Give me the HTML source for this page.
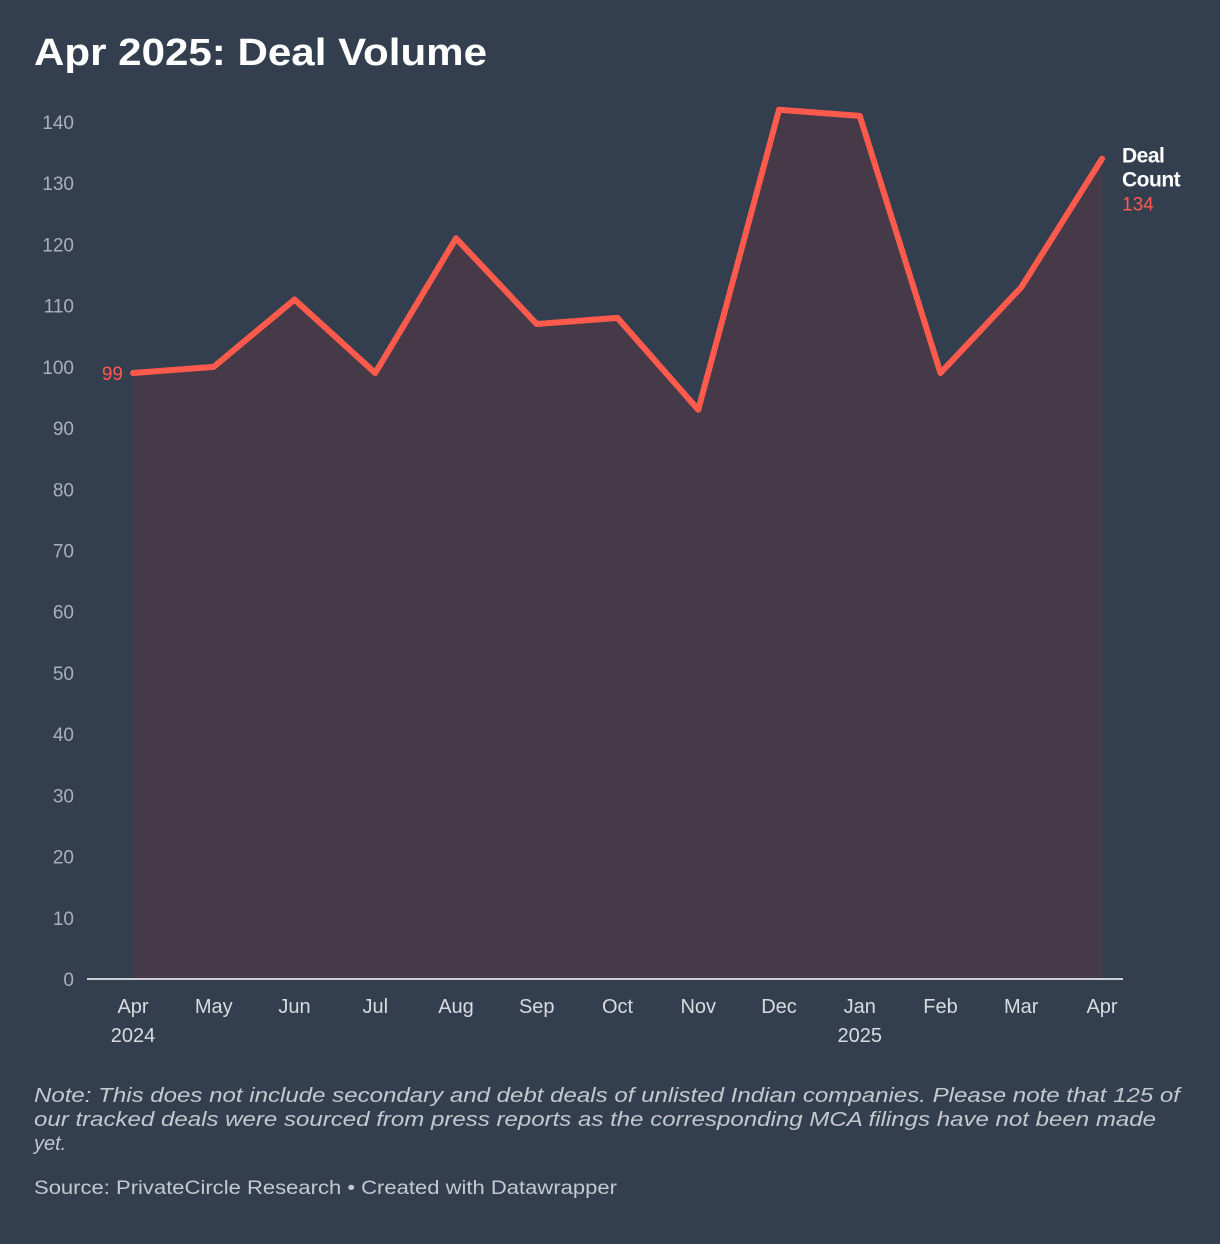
<!DOCTYPE html>
<html><head><meta charset="utf-8"><style>
body{margin:0;background:#333e4e;width:1220px;height:1244px;overflow:hidden;font-family:"Liberation Sans",sans-serif}
</style></head><body>
<svg width="1220" height="1244" id="svg" style="display:block">
<text x="34" y="65" font-size="38" font-weight="bold" fill="#fff" textLength="453" lengthAdjust="spacingAndGlyphs">Apr 2025: Deal Volume</text>
<g id="g"></g>
<text font-size="20" font-style="italic" fill="#c4c8cf"><tspan x="34" y="1102" textLength="1146" lengthAdjust="spacingAndGlyphs">Note: This does not include secondary and debt deals of unlisted Indian companies. Please note that 125 of</tspan><tspan x="34" y="1126" textLength="1122" lengthAdjust="spacingAndGlyphs">our tracked deals were sourced from press reports as the corresponding MCA filings have not been made</tspan><tspan x="34" y="1150">yet.</tspan></text>
<text x="34" y="1194" font-size="19" fill="#c4c8cf" textLength="583" lengthAdjust="spacingAndGlyphs">Source: PrivateCircle Research • Created with Datawrapper</text>
</svg>
<script>
const months=["Apr","May","Jun","Jul","Aug","Sep","Oct","Nov","Dec","Jan","Feb","Mar","Apr"];
const years=["2024","","","","","","","","","2025","","",""];
const values=[99,100,111,99,121,107,108,93,142,141,99,113,134];
const yTicks=[0,10,20,30,40,50,60,70,80,90,100,110,120,130,140];
const NS="http://www.w3.org/2000/svg";
const g=document.getElementById('g');
const x=i=>133+i*(1102-133)/(months.length-1);
const y=v=>979-v*(979-122)/140;
function mk(t,a,txt){const e=document.createElementNS(NS,t);for(const k in a)e.setAttribute(k,a[k]);if(txt!=null)e.textContent=txt;g.appendChild(e);return e;}
yTicks.forEach(t=>{const e=mk('text',{x:74,y:y(t)+7,'font-size':19,fill:'#aab0ba','text-anchor':'end'},t);

});
let pts=values.map((v,i)=>x(i)+','+y(v)).join(' ');
const area=mk('polygon',{points:x(0)+','+y(0)+' '+pts+' '+x(values.length-1)+','+y(0),fill:'#463a48'});


const base=mk('line',{x1:87,x2:1123,y1:979,y2:979,stroke:'#fff','stroke-width':1.5});


const line=mk('polyline',{points:pts,fill:'none',stroke:'#ff5a4b','stroke-width':6,'stroke-linejoin':'round','stroke-linecap':'round'});


months.forEach((m,i)=>{const e=mk('text',{x:x(i),y:1013,'font-size':20,fill:'#d8dbe0','text-anchor':'middle'},m);


if(years[i]){const t=mk('text',{x:x(i),y:1042,'font-size':20,fill:'#d8dbe0','text-anchor':'middle'},years[i]);

}});
const sl=mk('text',{x:x(0)-10,y:y(values[0])+7,'font-size':19,fill:'#ff5a4b','text-anchor':'end'},values[0]);


const last=values.length-1;
const l1=mk('text',{x:1122,y:y(values[last])+4,'font-size':21,'font-weight':'bold',fill:'#fff','letter-spacing':'-0.5'},'Deal');


const l2=mk('text',{x:1122,y:y(values[last])+28,'font-size':21,'font-weight':'bold',fill:'#fff','letter-spacing':'-0.5'},'Count');


const l3=mk('text',{x:1122,y:y(values[last])+52,'font-size':19,fill:'#ff5a4b'},values[last]);


</script>
</body></html>
